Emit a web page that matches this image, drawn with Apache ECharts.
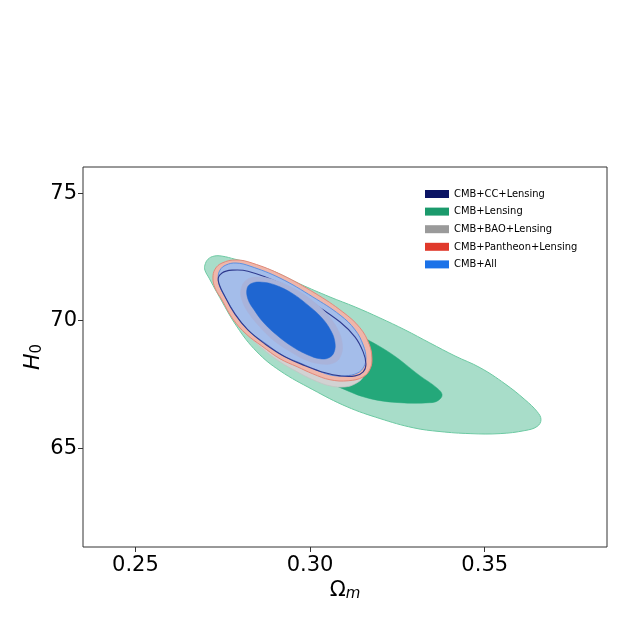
<!DOCTYPE html>
<html>
<head>
<meta charset="utf-8">
<script src="https://cdn.jsdelivr.net/npm/echarts@6/dist/echarts.min.js"></script>
<style>
  html, body { margin: 0; padding: 0; background: #fff; }
  #chart { width: 620px; height: 624px; }
</style>
</head>
<body>
<div id="chart"></div>
<script>
// contour outlines, [Omega_m, H0]
const lensingOuter = [
  [0.2699, 72.18], [0.2708, 72.41], [0.2725, 72.53], [0.2748, 72.53], [0.2785, 72.41],
  [0.2828, 72.26], [0.2900, 71.91], [0.2971, 71.44], [0.3057, 70.93], [0.3129, 70.54],
  [0.3200, 70.11], [0.3272, 69.64], [0.3343, 69.13], [0.3415, 68.62], [0.3487, 68.16],
  [0.3558, 67.53], [0.3615, 66.91], [0.3650, 66.44], [0.3661, 66.13], [0.3650, 65.86],
  [0.3615, 65.70], [0.3544, 65.58], [0.3458, 65.58], [0.3372, 65.66], [0.3295, 65.81],
  [0.3200, 66.17], [0.3106, 66.63], [0.3008, 67.30], [0.2914, 68.04], [0.2848, 68.78],
  [0.2791, 69.76], [0.2734, 71.09], [0.2711, 71.67], [0.2699, 71.98]
]
const lensingInner = [
  [0.2862, 70.97], [0.2900, 71.13], [0.2971, 70.70], [0.3057, 70.03], [0.3134, 69.48],
  [0.3229, 68.74], [0.3315, 67.84], [0.3363, 67.37], [0.3378, 67.10], [0.3366, 66.87],
  [0.3343, 66.79], [0.3258, 66.79], [0.3172, 66.95], [0.3100, 67.30], [0.3014, 67.88],
  [0.2943, 68.55], [0.2891, 69.33], [0.2862, 70.11], [0.2854, 70.65]
]
const baoOuter = [
  [0.2748, 71.51], [0.2759, 71.90], [0.2785, 72.06], [0.2828, 71.98], [0.2914, 71.47],
  [0.3008, 70.73], [0.3086, 70.03], [0.3132, 69.40], [0.3154, 68.78], [0.3160, 68.27],
  [0.3152, 67.80], [0.3129, 67.53], [0.3100, 67.41], [0.3057, 67.45], [0.3008, 67.69],
  [0.2963, 68.00], [0.2914, 68.39], [0.2862, 68.93], [0.2814, 69.56], [0.2779, 70.22],
  [0.2757, 70.89]
]
const baoInner = [
  [0.2802, 71.20], [0.2817, 71.59], [0.2851, 71.71], [0.2900, 71.59], [0.2957, 71.24],
  [0.3008, 70.77], [0.3051, 70.22], [0.3080, 69.64], [0.3092, 69.13], [0.3089, 68.66],
  [0.3069, 68.35], [0.3029, 68.31], [0.2986, 68.47], [0.2940, 68.82], [0.2894, 69.25],
  [0.2854, 69.79], [0.2822, 70.34], [0.2805, 70.81]
]
const pantheonOuter = [
  [0.2722, 71.67], [0.2728, 72.02], [0.2748, 72.26], [0.2788, 72.38], [0.2834, 72.26],
  [0.2920, 71.79], [0.3014, 71.08], [0.3094, 70.34], [0.3143, 69.72], [0.3169, 69.09],
  [0.3177, 68.55], [0.3172, 68.12], [0.3152, 67.80], [0.3109, 67.65], [0.3057, 67.69],
  [0.3008, 67.92], [0.2963, 68.20], [0.2914, 68.51], [0.2862, 69.01], [0.2817, 69.48],
  [0.2779, 70.07], [0.2748, 70.81], [0.2728, 71.28]
]
const ccOuter = [
  [0.2737, 71.59], [0.2748, 71.87], [0.2777, 71.98], [0.2822, 71.94], [0.2914, 71.47],
  [0.3008, 70.69], [0.3086, 69.95], [0.3129, 69.36], [0.3152, 68.78], [0.3160, 68.31],
  [0.3152, 68.00], [0.3129, 67.84], [0.3086, 67.84], [0.3043, 67.96], [0.2986, 68.24],
  [0.2928, 68.59], [0.2871, 69.09], [0.2822, 69.64], [0.2785, 70.26], [0.2757, 70.93]
]
const allOuter = [
  [0.2737, 71.67], [0.2742, 71.98], [0.2759, 72.18], [0.2788, 72.26], [0.2828, 72.14],
  [0.2914, 71.67], [0.3008, 70.93], [0.3086, 70.22], [0.3129, 69.64], [0.3152, 69.05],
  [0.3160, 68.55], [0.3154, 68.20], [0.3137, 67.96], [0.3100, 67.84], [0.3057, 67.88],
  [0.3017, 68.08], [0.2971, 68.35], [0.2923, 68.63], [0.2871, 69.13], [0.2828, 69.56],
  [0.2794, 70.11], [0.2762, 70.81], [0.2742, 71.32]
]
const allInner = [
  [0.2820, 71.28], [0.2834, 71.47], [0.2862, 71.51], [0.2900, 71.40], [0.2948, 71.08],
  [0.2994, 70.61], [0.3034, 70.11], [0.3060, 69.60], [0.3071, 69.17], [0.3069, 68.78],
  [0.3054, 68.55], [0.3029, 68.51], [0.2994, 68.66], [0.2951, 68.97], [0.2908, 69.40],
  [0.2868, 69.91], [0.2840, 70.42], [0.2822, 70.85]
]

const legendNames = ['CMB+CC+Lensing', 'CMB+Lensing', 'CMB+BAO+Lensing', 'CMB+Pantheon+Lensing', 'CMB+All']
const legendColors = ['#0b1464', '#1b9a6c', '#9a9a9a', '#e0392b', '#1b72e8']
const xTicks = [0.25, 0.30, 0.35]
const yTicks = [65, 70, 75]

function contour(name, pts, fill, stroke, lineWidth, z) {
  return {
    name: name,
    type: 'custom',
    coordinateSystem: 'cartesian2d',
    silent: true,
    z: z,
    data: [pts[0]],
    renderItem: function (params, api) {
      return {
        type: 'polygon',
        shape: { points: pts.map(p => api.coord(p)), smooth: 0.4 },
        style: { fill: fill, stroke: stroke, lineWidth: lineWidth }
      }
    }
  }
}

const chart = echarts.init(document.getElementById('chart'), null, { renderer: 'canvas' })
chart.setOption({
  animation: false,
  textStyle: { fontFamily: 'DejaVu Sans' },
  grid: {
    left: 83, right: 13, top: 167, bottom: 77,
    show: true, borderColor: '#333', borderWidth: 1, backgroundColor: 'transparent'
  },
  legend: {
    orient: 'vertical',
    left: 420,
    top: 183,
    itemWidth: 24,
    itemHeight: 8,
    itemGap: 5.6,
    icon: 'rect',
    selectedMode: false,
    textStyle: { fontFamily: 'DejaVu Sans Condensed, DejaVu Sans', fontSize: 11, lineHeight: 12, color: '#000' },
    data: legendNames.map((n, i) => ({ name: n, itemStyle: { color: legendColors[i] } }))
  },
  xAxis: {
    type: 'value',
    min: 0.235,
    max: 0.385,
    name: '{a|Ω}{s|m}',
    nameLocation: 'middle',
    nameGap: 32,
    nameMoveOverlap: false,
    nameTextStyle: {
      rich: {
        a: { fontSize: 21, fontFamily: 'DejaVu Sans', color: '#000' },
        s: { fontSize: 15, fontStyle: 'italic', fontFamily: 'DejaVu Sans', color: '#000', padding: [8, 0, 0, 0] }
      }
    },
    axisLine: { show: false },
    splitLine: { show: false },
    axisTick: { show: true, length: 5, customValues: xTicks, lineStyle: { color: '#333' } },
    axisLabel: {
      customValues: xTicks, margin: 8, fontSize: 21, color: '#000',
      formatter: v => v.toFixed(2)
    }
  },
  yAxis: {
    type: 'value',
    min: 61.14,
    max: 76.02,
    name: '{i|H}{s|0}',
    nameLocation: 'middle',
    nameRotate: 90,
    nameGap: 38,
    nameMoveOverlap: false,
    nameTextStyle: {
      rich: {
        i: { fontSize: 22, fontStyle: 'italic', fontFamily: 'DejaVu Sans', color: '#000' },
        s: { fontSize: 15, fontFamily: 'DejaVu Sans', color: '#000', padding: [8, 0, 0, 0] }
      }
    },
    axisLine: { show: false },
    splitLine: { show: false },
    axisTick: { show: true, length: 5, customValues: yTicks, lineStyle: { color: '#333' } },
    axisLabel: { customValues: yTicks, margin: 6, fontSize: 21, color: '#000' }
  },
  series: [
    contour('CMB+Lensing', lensingOuter, '#a8ddc9', '#6cc9a2', 1, 2),
    contour('CMB+Lensing', lensingInner, '#24a87a', '#24a87a', 0.5, 3),
    contour('CMB+BAO+Lensing', baoOuter, '#d2d2d2', '#c4c4c4', 0.8, 4),
    contour('CMB+Pantheon+Lensing', pantheonOuter, '#efb6aa', '#e3897a', 1, 5),
    contour('CMB+All', allOuter, '#a4bdea', '#5d91e2', 1, 6),
    contour('CMB+CC+Lensing', ccOuter, 'none', '#2f3a8e', 1.1, 7),
    contour('CMB+BAO+Lensing', baoInner, '#a9b3da', '#a9b3da', 0.5, 8),
    contour('CMB+All', allInner, '#1f66d1', '#1f66d1', 0.5, 9)
  ]
})
</script>
</body>
</html>
